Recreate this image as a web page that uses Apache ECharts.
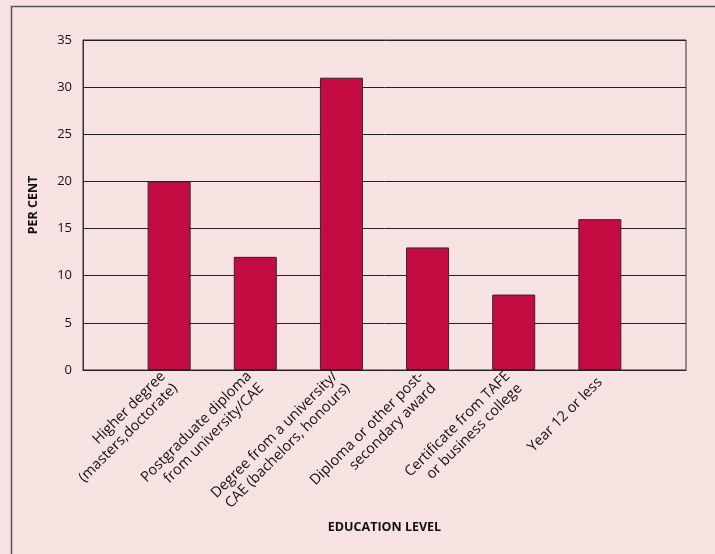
<!DOCTYPE html>
<html>
<head>
<meta charset="utf-8">
<script src="https://cdn.jsdelivr.net/npm/echarts@6/dist/echarts.min.js"></script>
<style>
html,body{margin:0;padding:0;background:#F7E2E2;}
#c{width:715px;height:554px;}
</style>
</head>
<body>
<div id="c"></div>
<script>
const categories = [
  "Higher degree\n(masters,doctorate)",
  "Postgraduate diploma\nfrom university/CAE",
  "Degree from a university/\nCAE (bachelors, honours)",
  "Diploma or other post-\nsecondary award",
  "Certificate from TAFE\nor business college",
  "Year 12 or less"
];
const values = [20, 12, 31, 13, 8, 16];
const yTicks = [0, 5, 10, 15, 20, 25, 30, 35];

const axisCats = [""].concat(categories).concat([""]);
const axisVals = [null].concat(values).concat([null]);

const chart = echarts.init(document.getElementById('c'), null, {renderer: 'canvas'});
const font = '"Open Sans", "Noto Sans", sans-serif';
chart.setOption({
  backgroundColor: '#F7E2E2',
  animation: false,
  textStyle: {fontFamily: font},
  graphic: [{
    type: 'rect', left: 9, top: 4, shape: {x: 0, y: 0, width: 800, height: 700},
    style: {fill: 'none', stroke: '#555', lineWidth: 1.5}, silent: true, z: 0
  }],
  grid: {
    left: 83, right: 29, top: 40, bottom: 184,
    show: true, borderColor: '#333', borderWidth: 1, backgroundColor: 'transparent'
  },
  xAxis: {
    type: 'category',
    data: axisCats,
    boundaryGap: false,
    name: 'EDUCATION LEVEL',
    nameLocation: 'middle',
    nameGap: 149,
    nameTextStyle: {fontWeight: 'bold', fontSize: 12.5, color: '#111', fontFamily: font},
    axisLine: {lineStyle: {color: '#222', width: 1}},
    axisTick: {show: false},
    axisLabel: {interval: 0, rotate: 45, fontSize: 14.5, color: '#111', margin: 10, lineHeight: 17, fontFamily: font},
    splitLine: {show: false}
  },
  yAxis: {
    type: 'value',
    min: 0, max: 35, interval: 5,
    name: 'PER CENT',
    nameLocation: 'middle',
    nameGap: 43,
    nameTextStyle: {fontWeight: 'bold', fontSize: 12.5, color: '#111', fontFamily: font},
    axisLine: {show: true, lineStyle: {color: '#333', width: 1}},
    axisTick: {show: false},
    axisLabel: {fontSize: 13, color: '#111', margin: 11, fontFamily: font,
      formatter: function(v){ return yTicks.indexOf(v) >= 0 ? String(v) : ''; }},
    splitLine: {show: true, lineStyle: {color: '#222', width: 1}}
  },
  series: [{
    type: 'bar',
    data: axisVals,
    barWidth: 43,
    itemStyle: {color: '#C40C42', borderColor: '#2a2a2a', borderWidth: 1}
  }]
});
</script>
</body>
</html>
